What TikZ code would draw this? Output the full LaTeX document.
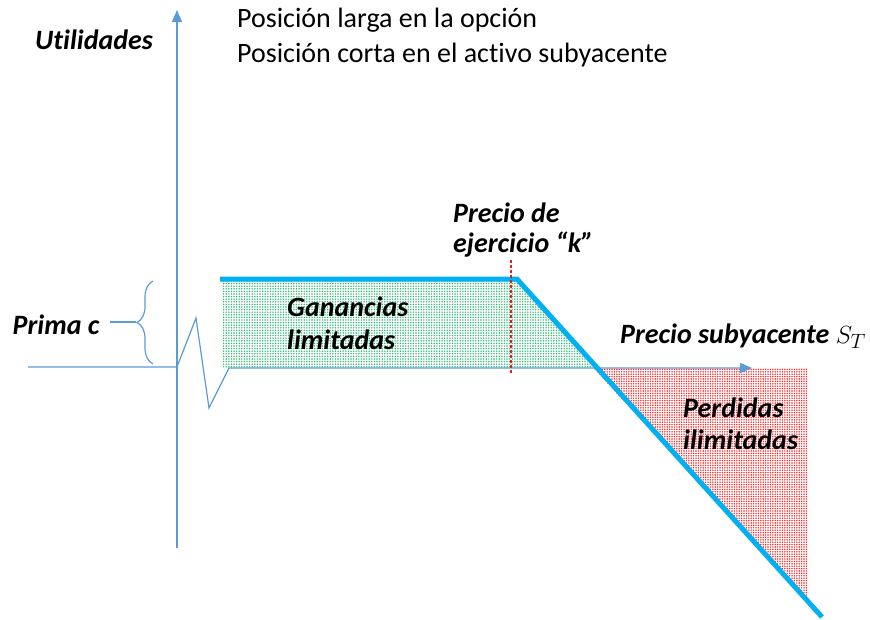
\documentclass[tikz,border=0pt]{standalone}
\usepackage{fontspec}
\setmainfont{Carlito}[Ligatures=NoCommon]
\usetikzlibrary{patterns.meta,arrows.meta,decorations.pathreplacing}
\definecolor{axisblue}{HTML}{5B9BD5}
\definecolor{payblue}{HTML}{00B0F0}
\definecolor{dotgreen}{HTML}{00B050}
\definecolor{dotred}{HTML}{FF2020}
\definecolor{strikered}{HTML}{E02020}
\begin{document}
\begin{tikzpicture}[x=1pt,y=-1pt,
  axis/.style={draw=axisblue,line width=1.2pt},
  payoff/.style={draw=payblue,line width=5pt},
  lbl/.style={font=\fontsize{28}{32}\selectfont\bfseries\itshape,inner sep=0pt},
  plain/.style={font=\fontsize{28}{32}\selectfont,inner sep=0pt,anchor=west},
  tip/.style={-{Triangle[length=12pt,width=10pt]}}]
\useasboundingbox (0,0) rectangle (870,619);
% fills
\fill[pattern={Dots[radius=0.8pt,distance=2.6pt]},pattern color=dotgreen!85] (223,280) -- (517,280) -- (593,368) -- (223,368) -- cycle;
\fill[pattern={Dots[radius=0.8pt,distance=2.4pt]},pattern color=dotred] (593,368) -- (808,368) -- (808,600) -- cycle;
% coordinates
\coordinate (yb) at (177,548);
\coordinate (yt) at (177,10);
\coordinate (xl) at (28,367);
\coordinate (z0) at (177,367);
\coordinate (z1) at (196,318);
\coordinate (z2) at (209,408);
\coordinate (z3) at (229,368);
\coordinate (xr) at (752,368);
\coordinate (p0) at (220,279);
\coordinate (p1) at (517,279);
\coordinate (p2) at (822,617);
\coordinate (k0) at (511,260);
\coordinate (k1) at (511,373);
\coordinate (b0) at (153,364);
\coordinate (b1) at (153,281);
\coordinate (bl) at (110,322);
% axes
\draw[axis,tip] (yb) -- (yt);
\draw[axis,tip] (xl) -- (z0) -- (z1) -- (z2) -- (z3) -- (xr);
% payoff
\draw[payoff] (p0) -- (p1) -- (p2);
% strike
\draw[strikered,dash pattern=on 3pt off 2pt,line width=1.2pt] (k0) -- (k1);
% brace
\draw[axis,decorate,decoration={brace,amplitude=16pt,mirror}] (b1) -- (b0);
\draw[axis] (bl) -- (136,322);
% texts
\node[lbl] (util) at (94,40) {Utilidades};
\node[plain] (t1) at (237,20) {Posición larga en la opción};
\node[plain] (t2) at (237,55) {Posición corta en el activo subyacente};
\node[lbl] (prima) at (56,325) {Prima c};
\node[lbl,anchor=west] (k1t) at (453,213) {Precio de};
\node[lbl,anchor=west] (k2t) at (453,245) {ejercicio “k”};
\node[lbl,anchor=west] (g1) at (287,307) {Ganancias};
\node[lbl,anchor=west] (g2) at (287,340) {limitadas};
\node[lbl,anchor=west] (st) at (620,336) {Precio subyacente $S_T$};
\node[lbl,anchor=west] (pe1) at (683,408) {Perdidas};
\node[lbl,anchor=west] (pe2) at (683,440) {ilimitadas};
\end{tikzpicture}
\end{document}
